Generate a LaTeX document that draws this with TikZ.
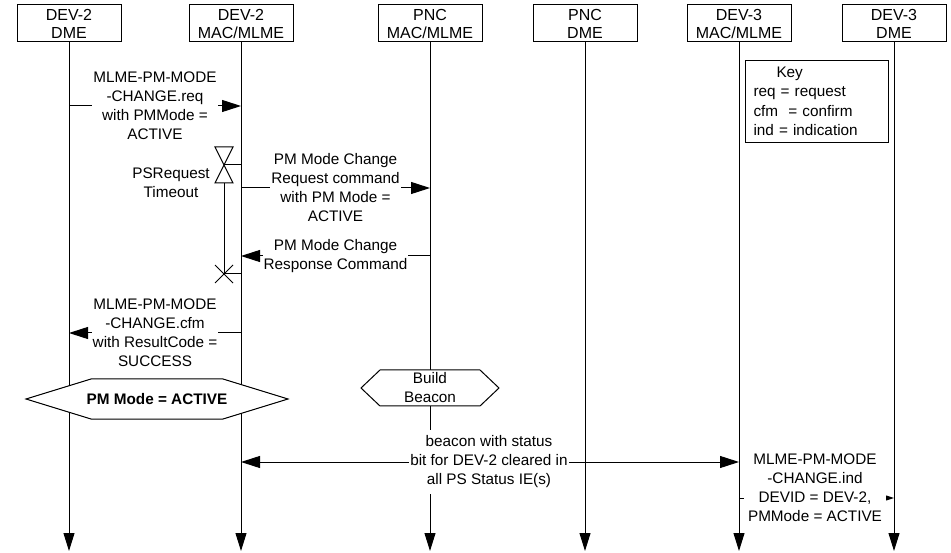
\documentclass[tikz,border=0pt]{standalone}
\usepackage{fontspec}
\setmainfont{Liberation Sans}
\usetikzlibrary{arrows.meta,calc,positioning}
\tikzset{
  mscbox/.style={draw,line width=1pt,minimum width=104pt,minimum height=37pt,
                 inner sep=0pt,align=center,font=\fontsize{16}{18}\selectfont},
  msclife/.style={line width=1pt,-{Triangle[length=18pt,width=11pt]}},
  mscarrow/.style={line width=1pt,-{Triangle[length=19pt,width=12pt]}},
  msclabel/.style={fill=white,inner xsep=1pt,inner ysep=4pt,align=center,
                   font=\fontsize{15.3}{19}\selectfont},
  mschex/.style={draw,line width=1pt,fill=white},
  msctimer/.style={line width=1pt}
}

\begin{document}
\begin{tikzpicture}[x=1pt,y=-1pt]
    \useasboundingbox (0,0) rectangle (951,553);

    % lifeline heads
    \node[mscbox] (d2dme)  at (69,23.5)  {DEV-2\\DME};
    \node[mscbox] (d2mac)  at (241,23.5) {DEV-2\\MAC/MLME};
    \node[mscbox] (pncmac) at (430,23.5) {PNC\\MAC/MLME};
    \node[mscbox] (pncdme) at (585,23.5) {PNC\\DME};
    \node[mscbox] (d3mac)  at (739,23.5) {DEV-3\\MAC/MLME};
    \node[mscbox] (d3dme)  at (894,23.5) {DEV-3\\DME};
    \coordinate (bottom) at (0,551);
    \foreach \n in {d2dme,d2mac,pncmac,pncdme,d3mac,d3dme}
      \draw[msclife] (\n.south) -- (\n |- bottom);

    \node[mscbox,anchor=north west,minimum width=143pt,minimum height=82pt,
          text width=127pt,inner xsep=8pt,align=left,
          font=\fontsize{15.3}{19.5}\selectfont] (key) at (745,60)
      {\hspace*{23pt}Key\\req = request\\cfm\ \ = confirm\\ind = indication};

    % message rows
    \coordinate (m1) at (0,106);
    \coordinate (m2) at (0,188);
    \coordinate (m3) at (0,256);
    \coordinate (m4) at (0,333);
    \coordinate (m5) at (0,462);
    \coordinate (m6) at (0,498);

    \draw[mscarrow] (d2dme |- m1) -- node[msclabel]
      {MLME-PM-MODE\\-CHANGE.req\\with PMMode =\\ACTIVE} (d2mac |- m1);
    \draw[mscarrow] (d2mac |- m2) -- node[msclabel]
      {PM Mode Change\\Request command\\with PM Mode =\\ACTIVE} (pncmac |- m2);
    \draw[mscarrow] (pncmac |- m3) -- node[msclabel]
      {PM Mode Change\\Response Command} (d2mac |- m3);
    \draw[mscarrow] (d2mac |- m4) -- node[msclabel]
      {MLME-PM-MODE\\-CHANGE.cfm\\with ResultCode =\\SUCCESS} (d2dme |- m4);

    % PSRequest timer
    \coordinate (tstart) at (224,165);
    \coordinate (tend) at (224,274);
    \draw[msctimer] (215,147) -- (233,147) -- (215,183) -- (233,183) -- cycle;
    \draw[msctimer] (tstart) -- (d2mac |- tstart);
    \draw[msctimer] (224,183) -- (tend) -- (d2mac |- tend);
    \draw[msctimer] ($(tend)+(-9,-9)$) -- ($(tend)+(9,9)$)
                    ($(tend)+(-9,9)$) -- ($(tend)+(9,-9)$);
    \node[msclabel] (timeout) at (171,182.5) {PSRequest\\Timeout};

    % states
    \draw[mschex] (26,399) -- ++(65,-20) -- ++(132,0) -- ++(65,20)
                  -- ++(-65,20) -- ++(-132,0) -- cycle;
    \node[msclabel,fill=none,font=\fontsize{15.3}{19}\selectfont\bfseries]
      (active) at (157,399) {PM Mode = ACTIVE};
    \draw[mschex] (361,388) -- ++(19,-18) -- ++(100,0) -- ++(19,18)
                  -- ++(-19,18) -- ++(-100,0) -- cycle;
    \node[msclabel,fill=none] (build) at (430,388) {Build\\Beacon};

    % beacon broadcast
    \draw[mscarrow] (pncmac |- m5) -- (d2mac |- m5);
    \draw[mscarrow] (pncmac |- m5) -- (d3mac |- m5);
    \node[msclabel,inner ysep=6pt] (beacon) at (489,462)
      {beacon with status\\bit for DEV-2 cleared in\\all PS Status IE(s)};

    % indication to DEV-3 DME
    \draw[mscarrow] (d3mac |- m6) -- (d3dme |- m6);
    \node[msclabel,inner xsep=4pt,inner ysep=1pt] (ind) at (815,488)
      {MLME-PM-MODE\\-CHANGE.ind\\DEVID = DEV-2,\\PMMode = ACTIVE};
\end{tikzpicture}
\end{document}
